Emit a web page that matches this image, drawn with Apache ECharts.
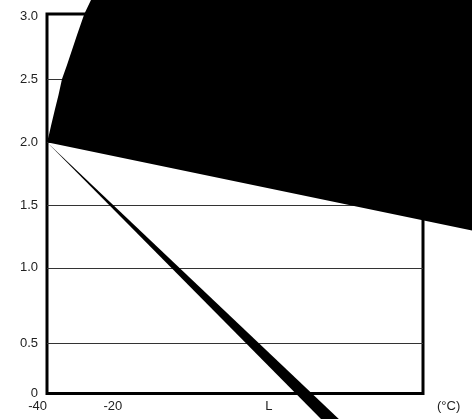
<!DOCTYPE html>
<html>
<head>
<meta charset="utf-8">
<title>Chart</title>
<script src="https://cdn.jsdelivr.net/npm/echarts@6/dist/echarts.min.js"></script>
<style>
  html, body { margin: 0; padding: 0; background: #fff; }
  #chart { width: 472px; height: 419px; }
</style>
</head>
<body>
<div id="chart"></div>
<script>
// x axis ticks (°C); the third one is labelled "L"
const xTickValues = [-40, -20, 20];
const xTickLabels = ['-40', '-20', 'L'];

// y axis ticks; the "0.5" line sits lower than a linear scale would put it
const yTickValues = [0, 0.4, 1.0, 1.5, 2.0, 2.5, 3.0];
const yTickLabels = ['0', '0.5', '1.0', '1.5', '2.0', '2.5', '3.0'];
const yGridValues = [0.4, 1.0, 1.5, 2.0, 2.5];

// big black region: curved upper-left edge, straight lower edge
const blackShape = [
  [-40, 2.0], [-39.49, 2.057], [-38.88, 2.137], [-37.93, 2.256],
  [-36.94, 2.375], [-36.01, 2.503], [-34.68, 2.614], [-33.35, 2.734],
  [-32.02, 2.853], [-30.08, 3.02], [-28.3, 3.131], [-26.04, 3.29],
  [80.5, 3.29], [80.5, 1.25]
];

// tapered line from (-40, 2.0) running off the bottom
const wedge = [
  [-40, 2.0], [38.4, -0.37], [43.5, -0.37]
];

const ChartComponent = {

  chart: null,

  /**
   * Custom series drawing a filled polygon through the axes
   */
  polygonSeries(points) {
    return {
      type: 'custom',
      clip: false,
      silent: true,
      data: [points[0]],
      renderItem: function (params, api) {
        return {
          type: 'polygon',
          shape: { points: points.map(p => api.coord(p)) },
          style: { fill: '#000', stroke: null }
        };
      }
    };
  },

  render() {
    this.chart = echarts.init(document.getElementById('chart'));

    const textStyle = {
      color: '#222',
      fontSize: 13,
      fontFamily: 'Liberation Sans, Arial, sans-serif'
    };

    const option = {
      animation: false,
      grid: {
        left: 47,
        right: 49,
        top: 14,
        bottom: 25.5,
        show: true,
        borderColor: '#000',
        borderWidth: 3,
        backgroundColor: 'transparent'
      },
      xAxis: {
        type: 'value',
        min: -40,
        max: 60,
        name: '(°C)',
        nameLocation: 'end',
        nameGap: 14,
        nameTextStyle: Object.assign({}, textStyle, {
          align: 'left',
          verticalAlign: 'top',
          padding: [6, 0, 0, 0]
        }),
        axisLine: { show: false },
        axisTick: { show: false },
        splitLine: { show: false },
        axisLabel: Object.assign({}, textStyle, {
          customValues: xTickValues,
          align: 'right',
          margin: 6,
          formatter: (val) => xTickLabels[xTickValues.indexOf(val)] ?? ''
        })
      },
      yAxis: {
        type: 'value',
        min: 0,
        max: 3.02,
        axisLine: { show: false },
        axisTick: { show: false, customValues: yGridValues },
        splitLine: {
          show: true,
          lineStyle: { color: '#333', width: 1 }
        },
        axisLabel: Object.assign({}, textStyle, {
          customValues: yTickValues,
          margin: 9,
          formatter: (val) => yTickLabels[yTickValues.indexOf(val)] ?? ''
        })
      },
      series: [
        this.polygonSeries(blackShape),
        this.polygonSeries(wedge)
      ]
    };

    this.chart.setOption(option);
  }
};

ChartComponent.render();
</script>
</body>
</html>
